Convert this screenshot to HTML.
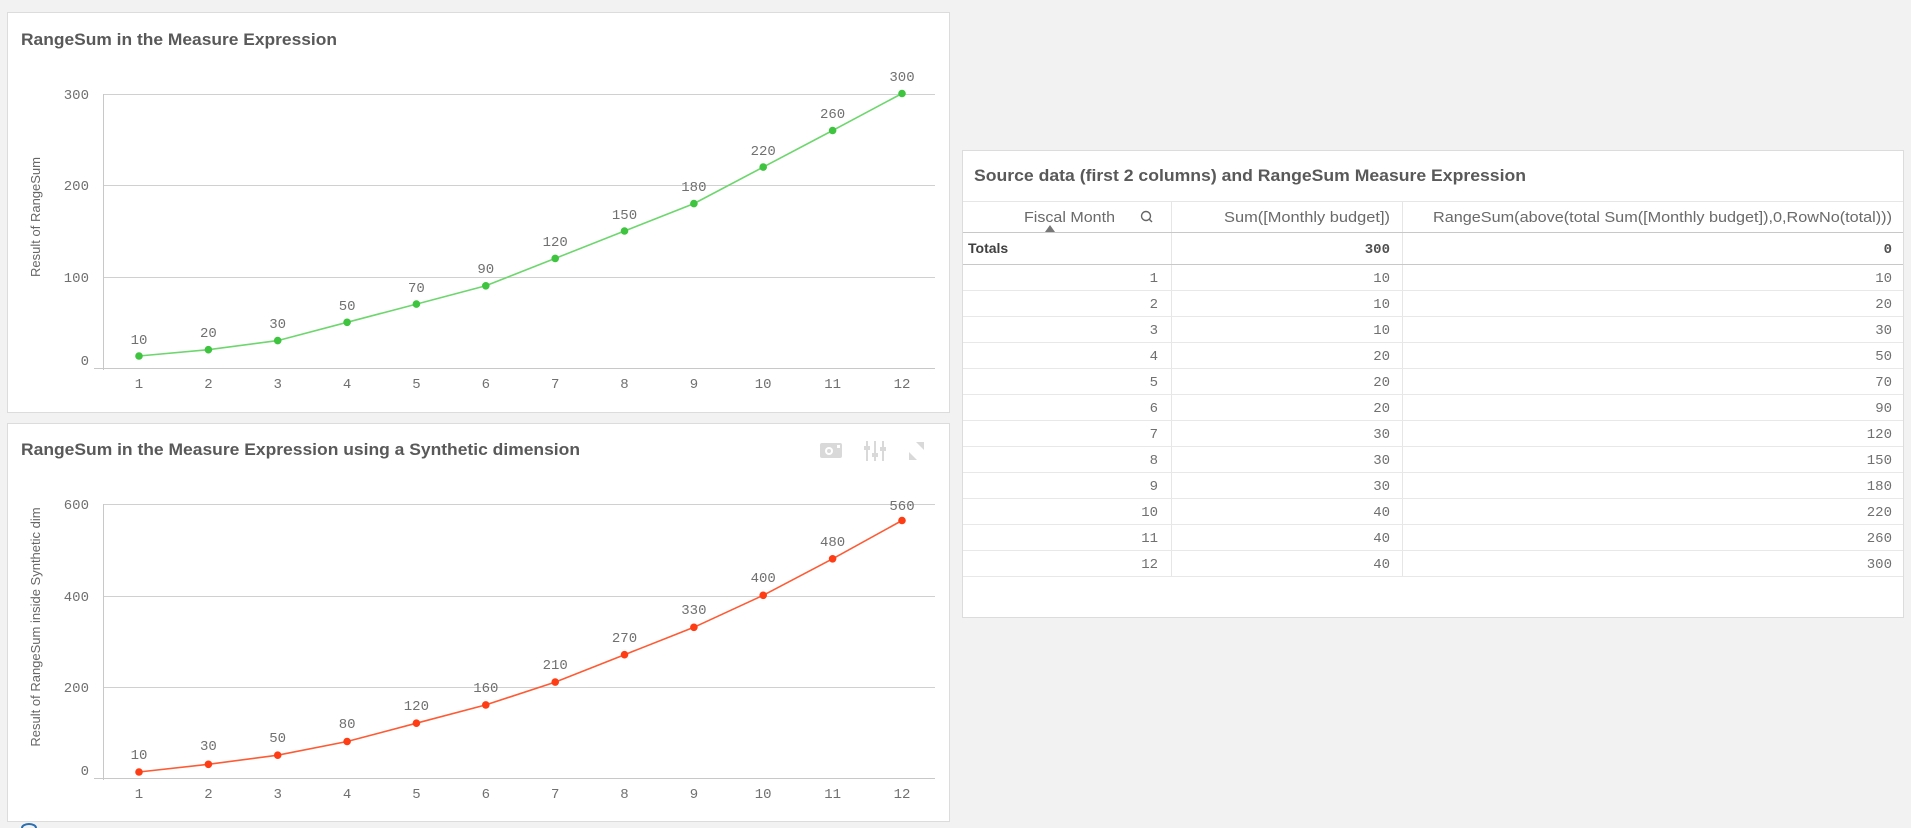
<!DOCTYPE html>
<html><head><meta charset="utf-8">
<style>
html,body{margin:0;padding:0;background:#f2f2f2;width:1911px;height:828px;overflow:hidden}
svg{position:absolute;left:0;top:0}
.t{font-family:"Liberation Sans",sans-serif;font-weight:bold;font-size:17px;fill:#595959}
.m{font-family:"Liberation Mono",monospace;font-size:14px;fill:#707070}
.s{font-family:"Liberation Sans",sans-serif;font-size:13px;fill:#666}
.h{font-family:"Liberation Sans",sans-serif;font-size:15px;fill:#6a6a6a}
</style></head><body>
<svg width="1911" height="828" viewBox="0 0 1911 828">
<rect x="7.5" y="12.5" width="942" height="400" fill="#fff" stroke="#dcdcdc"/>
<rect x="7.5" y="423.5" width="942" height="398" fill="#fff" stroke="#dcdcdc"/>
<rect x="962.5" y="150.5" width="941" height="467" fill="#fff" stroke="#dcdcdc"/>
<path d="M22 828 a7 4 0 0 1 14 0" fill="none" stroke="#2a6fb0" stroke-width="2"/>

<!-- Chart 1 -->
<text class="t" x="21" y="45" textLength="316" lengthAdjust="spacingAndGlyphs">RangeSum in the Measure Expression</text>
<g stroke="#d0d0d0" stroke-width="1">
<line x1="103" y1="94.5" x2="935" y2="94.5"/>
<line x1="103" y1="185.5" x2="935" y2="185.5"/>
<line x1="103" y1="277.5" x2="935" y2="277.5"/>
<line x1="94" y1="368.5" x2="935" y2="368.5" stroke="#c8c8c8"/>
<line x1="103.5" y1="94" x2="103.5" y2="370" stroke="#c8c8c8"/>
</g>
<g class="m" text-anchor="end">
<text x="89" y="99">300</text><text x="89" y="190">200</text><text x="89" y="282">100</text><text x="89" y="365">0</text>
</g>
<g class="m" text-anchor="middle">
<text x="139" y="388">1</text><text x="208.4" y="388">2</text><text x="277.7" y="388">3</text><text x="347.1" y="388">4</text><text x="416.4" y="388">5</text><text x="485.8" y="388">6</text><text x="555.2" y="388">7</text><text x="624.5" y="388">8</text><text x="693.9" y="388">9</text><text x="763.2" y="388">10</text><text x="832.6" y="388">11</text><text x="902" y="388">12</text>
</g>
<text class="s" transform="translate(40,217) rotate(-90)" text-anchor="middle">Result of RangeSum</text>
<polyline fill="none" stroke="#6dd66d" stroke-width="1.6" points="139,356 208.4,349.7 277.7,340.6 347.1,322.3 416.4,304.1 485.8,285.8 555.2,258.4 624.5,231 693.9,203.6 763.2,167.1 832.6,130.5 902,93.5"/>
<g fill="#3ec43e">
<circle cx="139" cy="356" r="3.8"/><circle cx="208.4" cy="349.7" r="3.8"/><circle cx="277.7" cy="340.6" r="3.8"/><circle cx="347.1" cy="322.3" r="3.8"/><circle cx="416.4" cy="304.1" r="3.8"/><circle cx="485.8" cy="285.8" r="3.8"/><circle cx="555.2" cy="258.4" r="3.8"/><circle cx="624.5" cy="231" r="3.8"/><circle cx="693.9" cy="203.6" r="3.8"/><circle cx="763.2" cy="167.1" r="3.8"/><circle cx="832.6" cy="130.5" r="3.8"/><circle cx="902" cy="93.5" r="3.8"/>
</g>
<g class="m" text-anchor="middle">
<text x="139" y="344">10</text><text x="208.4" y="337">20</text><text x="277.7" y="328">30</text><text x="347.1" y="310">50</text><text x="416.4" y="292">70</text><text x="485.8" y="273">90</text><text x="555.2" y="246">120</text><text x="624.5" y="219">150</text><text x="693.9" y="191">180</text><text x="763.2" y="155">220</text><text x="832.6" y="118">260</text><text x="902" y="81">300</text>
</g>

<!-- Chart 2 -->
<text class="t" x="21" y="455" textLength="559" lengthAdjust="spacingAndGlyphs">RangeSum in the Measure Expression using a Synthetic dimension</text>
<g fill="#d9d9d9">
<rect x="820" y="443" width="22" height="15" rx="2"/>
<circle cx="829" cy="451" r="4" fill="#fff"/><circle cx="829" cy="451" r="2"/>
<rect x="837" y="445" width="3" height="3" fill="#fff"/>
<rect x="866" y="441" width="2" height="20"/><rect x="874" y="441" width="2" height="20"/><rect x="882" y="441" width="2" height="20"/>
<rect x="864" y="446" width="6" height="4"/><rect x="872" y="453" width="6" height="4"/><rect x="880" y="447" width="6" height="4"/>
<path d="M916 442 L924 442 L924 450 Z"/><path d="M909 460 L909 452 L917 460 Z"/>
</g>
<g stroke="#d0d0d0" stroke-width="1">
<line x1="103" y1="504.5" x2="935" y2="504.5"/>
<line x1="103" y1="596.5" x2="935" y2="596.5"/>
<line x1="103" y1="687.5" x2="935" y2="687.5"/>
<line x1="94" y1="778.5" x2="935" y2="778.5" stroke="#c8c8c8"/>
<line x1="103.5" y1="504" x2="103.5" y2="780" stroke="#c8c8c8"/>
</g>
<g class="m" text-anchor="end">
<text x="89" y="509">600</text><text x="89" y="601">400</text><text x="89" y="692">200</text><text x="89" y="775">0</text>
</g>
<g class="m" text-anchor="middle">
<text x="139" y="798">1</text><text x="208.4" y="798">2</text><text x="277.7" y="798">3</text><text x="347.1" y="798">4</text><text x="416.4" y="798">5</text><text x="485.8" y="798">6</text><text x="555.2" y="798">7</text><text x="624.5" y="798">8</text><text x="693.9" y="798">9</text><text x="763.2" y="798">10</text><text x="832.6" y="798">11</text><text x="902" y="798">12</text>
</g>
<text class="s" transform="translate(40,627) rotate(-90)" text-anchor="middle">Result of RangeSum inside Synthetic dim</text>
<polyline fill="none" stroke="#ff5a33" stroke-width="1.6" points="139,772 208.4,764.3 277.7,755.2 347.1,741.5 416.4,723.2 485.8,704.9 555.2,682.1 624.5,654.7 693.9,627.3 763.2,595.3 832.6,558.8 902,520.5"/>
<g fill="#ff3d14">
<circle cx="139" cy="772" r="3.8"/><circle cx="208.4" cy="764.3" r="3.8"/><circle cx="277.7" cy="755.2" r="3.8"/><circle cx="347.1" cy="741.5" r="3.8"/><circle cx="416.4" cy="723.2" r="3.8"/><circle cx="485.8" cy="704.9" r="3.8"/><circle cx="555.2" cy="682.1" r="3.8"/><circle cx="624.5" cy="654.7" r="3.8"/><circle cx="693.9" cy="627.3" r="3.8"/><circle cx="763.2" cy="595.3" r="3.8"/><circle cx="832.6" cy="558.8" r="3.8"/><circle cx="902" cy="520.5" r="3.8"/>
</g>
<g class="m" text-anchor="middle">
<text x="139" y="759">10</text><text x="208.4" y="750">30</text><text x="277.7" y="742">50</text><text x="347.1" y="728">80</text><text x="416.4" y="710">120</text><text x="485.8" y="692">160</text><text x="555.2" y="669">210</text><text x="624.5" y="642">270</text><text x="693.9" y="614">330</text><text x="763.2" y="582">400</text><text x="832.6" y="546">480</text><text x="902" y="510">560</text>
</g>

<!-- Table -->
<text class="t" x="974" y="181" textLength="552" lengthAdjust="spacingAndGlyphs">Source data (first 2 columns) and RangeSum Measure Expression</text>
<g stroke="#e6e6e6">
<line x1="963" y1="201.5" x2="1903" y2="201.5"/>
<line x1="1171.5" y1="201" x2="1171.5" y2="576"/>
<line x1="1402.5" y1="201" x2="1402.5" y2="576"/>
</g>
<line x1="963" y1="232.5" x2="1903" y2="232.5" stroke="#c8c8c8"/>
<line x1="963" y1="264.5" x2="1903" y2="264.5" stroke="#c8c8c8"/>
<g stroke="#e8e8e8">
<line x1="963" y1="290.5" x2="1903" y2="290.5"/><line x1="963" y1="316.5" x2="1903" y2="316.5"/><line x1="963" y1="342.5" x2="1903" y2="342.5"/><line x1="963" y1="368.5" x2="1903" y2="368.5"/><line x1="963" y1="394.5" x2="1903" y2="394.5"/><line x1="963" y1="420.5" x2="1903" y2="420.5"/><line x1="963" y1="446.5" x2="1903" y2="446.5"/><line x1="963" y1="472.5" x2="1903" y2="472.5"/><line x1="963" y1="498.5" x2="1903" y2="498.5"/><line x1="963" y1="524.5" x2="1903" y2="524.5"/><line x1="963" y1="550.5" x2="1903" y2="550.5"/><line x1="963" y1="576.5" x2="1903" y2="576.5"/>
</g>
<g class="h">
<text x="1024" y="222" textLength="91" lengthAdjust="spacingAndGlyphs">Fiscal Month</text>
<text x="1224" y="222" textLength="166" lengthAdjust="spacingAndGlyphs">Sum([Monthly budget])</text>
<text x="1433" y="222" textLength="459" lengthAdjust="spacingAndGlyphs">RangeSum(above(total Sum([Monthly budget]),0,RowNo(total)))</text>
</g>
<path d="M1045 232 L1050 225 L1055 232 Z" fill="#777"/>
<circle cx="1146" cy="216" r="4.5" fill="none" stroke="#666" stroke-width="1.4"/>
<line x1="1149" y1="219" x2="1152" y2="222" stroke="#666" stroke-width="1.4"/>
<text x="968" y="253" font-family="Liberation Sans,sans-serif" font-weight="bold" font-size="14" fill="#404040">Totals</text>
<g class="m" text-anchor="end" style="font-weight:bold;fill:#505050">
<text x="1390" y="253">300</text><text x="1892" y="253">0</text>
</g>
<g class="m" text-anchor="end">
<text x="1158" y="282">1</text><text x="1390" y="282">10</text><text x="1892" y="282">10</text>
<text x="1158" y="308">2</text><text x="1390" y="308">10</text><text x="1892" y="308">20</text>
<text x="1158" y="334">3</text><text x="1390" y="334">10</text><text x="1892" y="334">30</text>
<text x="1158" y="360">4</text><text x="1390" y="360">20</text><text x="1892" y="360">50</text>
<text x="1158" y="386">5</text><text x="1390" y="386">20</text><text x="1892" y="386">70</text>
<text x="1158" y="412">6</text><text x="1390" y="412">20</text><text x="1892" y="412">90</text>
<text x="1158" y="438">7</text><text x="1390" y="438">30</text><text x="1892" y="438">120</text>
<text x="1158" y="464">8</text><text x="1390" y="464">30</text><text x="1892" y="464">150</text>
<text x="1158" y="490">9</text><text x="1390" y="490">30</text><text x="1892" y="490">180</text>
<text x="1158" y="516">10</text><text x="1390" y="516">40</text><text x="1892" y="516">220</text>
<text x="1158" y="542">11</text><text x="1390" y="542">40</text><text x="1892" y="542">260</text>
<text x="1158" y="568">12</text><text x="1390" y="568">40</text><text x="1892" y="568">300</text>
</g>
</svg>
</body></html>
